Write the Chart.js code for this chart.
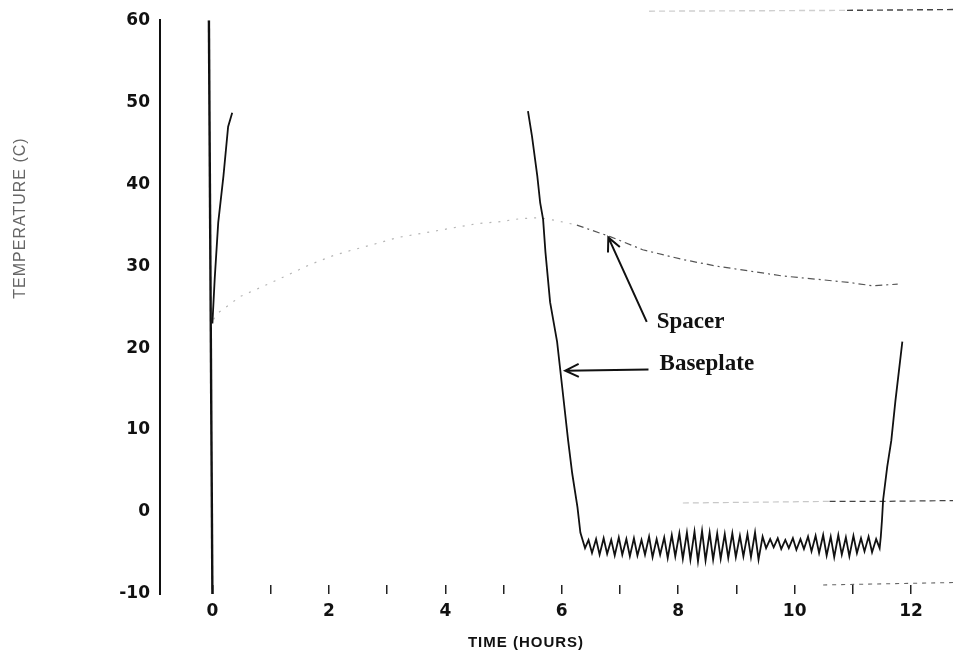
<!DOCTYPE html>
<html>
<head>
<meta charset="utf-8">
<script src="https://cdn.jsdelivr.net/npm/chart.js@4.4.1/dist/chart.umd.min.js"></script>
<style>
html, body { margin: 0; padding: 0; background: #fff; }
#wrap { width: 953px; height: 658px; }
</style>
</head>
<body>
<div id="wrap"><canvas id="tempChart" width="953" height="658"></canvas></div>
<script>
// values: time in hours, temperature in C
var startHours = [-0.06, 0];
var startTemp = [60, -10];

var baseHours = [0.00, 0.04, 0.10, 0.19, 0.27, 0.34, 2.90,
	5.42, 5.49, 5.58, 5.63, 5.68, 5.72, 5.80, 5.92, 6.01, 6.11, 6.18, 6.27, 6.32, 6.40,
	6.46, 6.52, 6.59, 6.65, 6.72, 6.78, 6.85, 6.91, 6.98, 7.04, 7.11, 7.17, 7.24, 7.30,
	7.37, 7.43, 7.50, 7.56, 7.63, 7.69, 7.76, 7.82, 7.89, 7.95, 8.02, 8.08, 8.15, 8.21,
	8.28, 8.34, 8.41, 8.47, 8.54, 8.60, 8.67, 8.73, 8.80, 8.86, 8.93, 8.99, 9.06, 9.12,
	9.19, 9.25, 9.32, 9.38, 9.45, 9.51, 9.58, 9.64, 9.71, 9.77, 9.84, 9.90, 9.97, 10.03,
	10.10, 10.16, 10.23, 10.29, 10.36, 10.42, 10.49, 10.55, 10.62, 10.68, 10.75, 10.81,
	10.88, 10.94, 11.01, 11.07, 11.14, 11.20, 11.27, 11.33, 11.40, 11.46,
	11.48, 11.50, 11.52, 11.59, 11.66, 11.73, 11.85];
var baseTemp = [23.0, 28.5, 35.3, 41.0, 47.0, 48.7, null,
	48.9, 45.8, 41.0, 37.7, 35.7, 31.7, 25.6, 20.8, 15.1, 8.7, 4.7, 0.6, -2.5, -4.4,
	-3.4, -5.0, -3.3, -5.2, -3.2, -5.1, -3.4, -5.3, -3.1, -5.2, -3.3, -5.4, -3.2, -5.3,
	-3.4, -5.2, -3.0, -5.5, -3.3, -5.2, -3.1, -5.6, -2.8, -5.4, -2.6, -5.7, -2.5, -5.8,
	-2.4, -6.0, -2.3, -5.9, -2.5, -5.8, -2.6, -5.7, -2.7, -5.6, -2.6, -5.5, -2.9, -5.4,
	-2.7, -5.5, -2.5, -5.8, -3.0, -4.4, -3.3, -4.3, -3.2, -4.5, -3.4, -4.4, -3.2, -4.6,
	-3.3, -4.5, -3.0, -4.8, -2.9, -5.0, -2.8, -5.3, -3.0, -5.5, -2.8, -5.2,
	-3.1, -5.4, -2.9, -5.0, -3.2, -4.8, -3.0, -4.9, -3.3, -4.4,
	-3.0, -1.0, 1.5, 5.5, 8.7, 13.5, 20.8];

var spacerHours = [0.02, 0.10, 0.48, 0.86, 1.29, 1.68, 2.08, 2.37, 2.74, 3.19, 3.60, 4.08,
	4.56, 4.91, 5.30, 5.60, 5.88, 6.26, 6.83, 7.39, 8.08, 8.66, 9.23, 9.79, 10.38,
	10.94, 11.34, 11.77];
var spacerTemp = [23.5, 24.3, 26.3, 27.5, 28.9, 30.2, 31.3, 31.9, 32.6, 33.5, 34.0, 34.6,
	35.2, 35.4, 35.8, 35.9, 35.6, 35.0, 33.6, 32.0, 30.8, 30.0, 29.4, 28.8, 28.4,
	28.0, 27.6, 27.8];

// faint traces near the right edge of the scan
var topHours = [7.50, 10.90, 12.72];
var topTemp = [61.1, 61.2, 61.3];
var midHours = [8.08, 10.60, 11.50, 12.72];
var midTemp = [1.1, 1.3, 1.3, 1.4];
var lowHours = [10.49, 12.72];
var lowTemp = [-8.9, -8.6];

var xTickValues = [0, 1, 2, 3, 4, 5, 6, 7, 8, 9, 10, 11, 12];
var yTickValues = [-10, 0, 10, 20, 30, 40, 50, 60];

var notes = [
	{ text: 'Spacer', tx: 7.63, ty: 23.2, fromX: 7.46, fromY: 23.2, toX: 6.80, toY: 33.5 },
	{ text: 'Baseplate', tx: 7.68, ty: 18.0, fromX: 7.49, fromY: 17.4, toX: 6.06, toY: 17.25 }
];

function toPoints(xs, ys) {
	var pts = new Array();
	for (var i = 0; i < xs.length; i++) {
		pts.push({ x: xs[i], y: ys[i] });
	}
	return pts;
}

var notesPlugin = {
	id: 'notes',
	afterDatasetsDraw: function(chart) {
		var ctx = chart.ctx;
		var xs = chart.scales.x, ys = chart.scales.y;
		ctx.save();
		ctx.strokeStyle = '#111';
		ctx.fillStyle = '#111';
		ctx.lineWidth = 2;
		notes.forEach(function(n) {
			var x1 = xs.getPixelForValue(n.fromX), y1 = ys.getPixelForValue(n.fromY);
			var x2 = xs.getPixelForValue(n.toX), y2 = ys.getPixelForValue(n.toY);
			ctx.beginPath();
			ctx.moveTo(x1, y1);
			ctx.lineTo(x2, y2);
			var a = Math.atan2(y1 - y2, x1 - x2);
			ctx.moveTo(x2 + 15 * Math.cos(a + 0.45), y2 + 15 * Math.sin(a + 0.45));
			ctx.lineTo(x2, y2);
			ctx.lineTo(x2 + 15 * Math.cos(a - 0.45), y2 + 15 * Math.sin(a - 0.45));
			ctx.stroke();
			ctx.font = 'bold 23px "Liberation Serif", "Times New Roman", serif';
			ctx.textAlign = 'left';
			ctx.textBaseline = 'middle';
			ctx.fillText(n.text, xs.getPixelForValue(n.tx), ys.getPixelForValue(n.ty));
		});
		// axis titles
		ctx.textAlign = 'center';
		ctx.textBaseline = 'middle';
		ctx.letterSpacing = '1px';
		ctx.font = 'bold 15px "Liberation Sans", Arial, sans-serif';
		ctx.fillText('TIME (HOURS)', 526, 643);
		ctx.translate(21, 218);
		ctx.rotate(-Math.PI / 2);
		ctx.fillStyle = '#666';
		ctx.font = '16px "Liberation Sans", Arial, sans-serif';
		ctx.fillText('TEMPERATURE (C)', 0, 0);
		ctx.restore();
	}
};

function faint(split, light, dark) {
	return {
		borderColor: function(c) { return c.p0.parsed.x < split ? light : dark; }
	};
}

var config = {
	type: 'line',
	data: {
		datasets: [{
			label: 'start',
			data: toPoints(startHours, startTemp),
			borderColor: '#111',
			borderWidth: 2.4
		}, {
			label: 'Baseplate',
			data: toPoints(baseHours, baseTemp),
			borderColor: '#111',
			borderWidth: 1.8,
			spanGaps: false
		}, {
			label: 'Spacer',
			data: toPoints(spacerHours, spacerTemp),
			borderColor: '#999',
			borderWidth: 1.2,
			segment: {
				borderColor: function(c) { return c.p0.parsed.x < 6.2 ? '#b5b5b5' : '#555'; },
				borderDash: function(c) { return c.p0.parsed.x < 6.2 ? [2, 7] : [7, 4, 2, 4]; }
			}
		}, {
			label: 'top',
			data: toPoints(topHours, topTemp),
			borderColor: '#777',
			borderWidth: 1.4,
			borderDash: [6, 4],
			clip: false,
			segment: faint(10.5, '#cfcfcf', '#444')
		}, {
			label: 'mid',
			data: toPoints(midHours, midTemp),
			borderColor: '#777',
			borderWidth: 1.2,
			borderDash: [6, 4],
			segment: faint(10.5, '#c8c8c8', '#444')
		}, {
			label: 'low',
			data: toPoints(lowHours, lowTemp),
			borderColor: '#666',
			borderWidth: 1.1,
			borderDash: [4, 5]
		}]
	},
	options: {
		responsive: false,
		animation: false,
		layout: { padding: { top: 13, right: 0, bottom: 0, left: 0 } },
		elements: { point: { radius: 0 }, line: { tension: 0 } },
		plugins: { legend: { display: false }, tooltip: { enabled: false } },
		scales: {
			x: {
				type: 'linear',
				min: -0.9,
				max: 12.72,
				afterBuildTicks: function(scale) {
					scale.ticks = xTickValues.map(function(v) { return { value: v }; });
				},
				afterFit: function(scale) { scale.height = 64; },
				border: { display: false },
				grid: { display: true, drawOnChartArea: false, drawTicks: true, tickLength: -9, color: '#222', lineWidth: 1.5 },
				ticks: {
					padding: 16,
					color: '#111',
					font: { family: '"DejaVu Sans", sans-serif', weight: 'bold', size: 17 },
					callback: function(v) { return v % 2 === 0 ? v : ''; }
				}
			},
			y: {
				type: 'linear',
				min: -10,
				max: 60,
				afterBuildTicks: function(scale) {
					scale.ticks = yTickValues.map(function(v) { return { value: v }; });
				},
				afterFit: function(scale) { scale.width = 160; },
				border: { display: true, color: '#111', width: 2 },
				grid: { display: false, drawTicks: false },
				ticks: {
					padding: 10,
					color: '#111',
					font: { family: '"DejaVu Sans", sans-serif', weight: 'bold', size: 17 }
				}
			}
		}
	},
	plugins: [notesPlugin]
};

window.temp_chart = new Chart(document.getElementById('tempChart').getContext('2d'), config);
</script>
</body>
</html>
